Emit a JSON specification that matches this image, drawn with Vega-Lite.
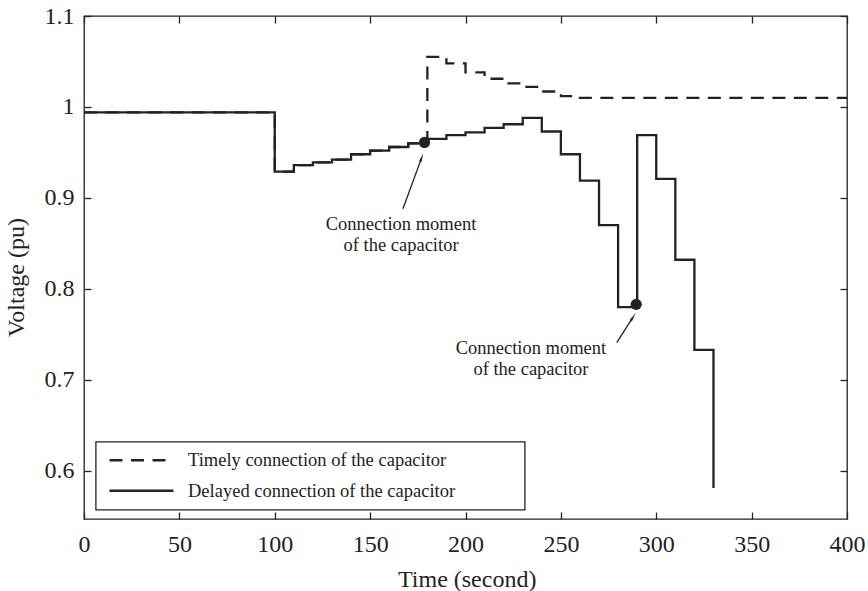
{
  "$schema": "https://vega.github.io/schema/vega-lite/v6.json",
  "width": 763,
  "height": 503,
  "autosize": {"type": "none"},
  "padding": {"left": 84, "top": 16, "right": 21, "bottom": 72},
  "background": "white",
  "config": {
    "view": {"stroke": "#222", "strokeWidth": 1.3},
    "font": "Liberation Serif",
    "axis": {
      "grid": false,
      "domain": false,
      "tickSize": -7,
      "tickColor": "#222",
      "tickWidth": 1.3,
      "labelFont": "Liberation Serif",
      "labelFontSize": 24,
      "labelColor": "#222",
      "labelFlush": false,
      "titleFont": "Liberation Serif",
      "titleFontSize": 24,
      "titleFontWeight": "normal",
      "titleColor": "#222"
    },
    "legend": {
      "strokeColor": "#222",
      "strokeWidth": 1.3,
      "fillColor": "white",
      "padding": 9.3,
      "cornerRadius": 0
    }
  },
  "datasets": {
    "series": [
      {"t": 0, "v": 0.994, "s": "Delayed connection of the capacitor"},
      {"t": 100, "v": 0.929, "s": "Delayed connection of the capacitor"},
      {"t": 110, "v": 0.936, "s": "Delayed connection of the capacitor"},
      {"t": 120, "v": 0.939, "s": "Delayed connection of the capacitor"},
      {"t": 130, "v": 0.942, "s": "Delayed connection of the capacitor"},
      {"t": 140, "v": 0.948, "s": "Delayed connection of the capacitor"},
      {"t": 150, "v": 0.952, "s": "Delayed connection of the capacitor"},
      {"t": 160, "v": 0.956, "s": "Delayed connection of the capacitor"},
      {"t": 170, "v": 0.960, "s": "Delayed connection of the capacitor"},
      {"t": 180, "v": 0.965, "s": "Delayed connection of the capacitor"},
      {"t": 190, "v": 0.969, "s": "Delayed connection of the capacitor"},
      {"t": 200, "v": 0.972, "s": "Delayed connection of the capacitor"},
      {"t": 210, "v": 0.977, "s": "Delayed connection of the capacitor"},
      {"t": 220, "v": 0.981, "s": "Delayed connection of the capacitor"},
      {"t": 230, "v": 0.988, "s": "Delayed connection of the capacitor"},
      {"t": 240, "v": 0.973, "s": "Delayed connection of the capacitor"},
      {"t": 250, "v": 0.948, "s": "Delayed connection of the capacitor"},
      {"t": 260, "v": 0.919, "s": "Delayed connection of the capacitor"},
      {"t": 270, "v": 0.870, "s": "Delayed connection of the capacitor"},
      {"t": 280, "v": 0.780, "s": "Delayed connection of the capacitor"},
      {"t": 290, "v": 0.969, "s": "Delayed connection of the capacitor"},
      {"t": 300, "v": 0.921, "s": "Delayed connection of the capacitor"},
      {"t": 310, "v": 0.832, "s": "Delayed connection of the capacitor"},
      {"t": 320, "v": 0.733, "s": "Delayed connection of the capacitor"},
      {"t": 330, "v": 0.581, "s": "Delayed connection of the capacitor"},
      {"t": 0, "v": 0.994, "s": "Timely connection of the capacitor"},
      {"t": 100, "v": 0.929, "s": "Timely connection of the capacitor"},
      {"t": 110, "v": 0.936, "s": "Timely connection of the capacitor"},
      {"t": 120, "v": 0.939, "s": "Timely connection of the capacitor"},
      {"t": 130, "v": 0.942, "s": "Timely connection of the capacitor"},
      {"t": 140, "v": 0.948, "s": "Timely connection of the capacitor"},
      {"t": 150, "v": 0.952, "s": "Timely connection of the capacitor"},
      {"t": 160, "v": 0.956, "s": "Timely connection of the capacitor"},
      {"t": 170, "v": 0.960, "s": "Timely connection of the capacitor"},
      {"t": 180, "v": 1.055, "s": "Timely connection of the capacitor"},
      {"t": 190, "v": 1.048, "s": "Timely connection of the capacitor"},
      {"t": 200, "v": 1.038, "s": "Timely connection of the capacitor"},
      {"t": 210, "v": 1.031, "s": "Timely connection of the capacitor"},
      {"t": 220, "v": 1.026, "s": "Timely connection of the capacitor"},
      {"t": 230, "v": 1.022, "s": "Timely connection of the capacitor"},
      {"t": 240, "v": 1.017, "s": "Timely connection of the capacitor"},
      {"t": 250, "v": 1.012, "s": "Timely connection of the capacitor"},
      {"t": 260, "v": 1.010, "s": "Timely connection of the capacitor"},
      {"t": 400, "v": 1.010, "s": "Timely connection of the capacitor"}
    ],
    "dots": [
      {"t": 178.5, "v": 0.961},
      {"t": 289.5, "v": 0.783}
    ],
    "arrows": [
      {"id": "a1", "t0": 167.2, "v0": 0.888, "t1": 176.8, "v1": 0.9429},
      {"id": "a2", "t0": 279.3, "v0": 0.741, "t1": 287.5, "v1": 0.7678}
    ],
    "notes": [
      {"t": 166.2, "v": 0.8648, "label": "Connection moment\nof the capacitor"},
      {"t": 234.3, "v": 0.728, "label": "Connection moment\nof the capacitor"}
    ]
  },
  "resolve": {"axis": {"x": "independent", "y": "independent"}},
  "layer": [
    {
      "data": {"name": "series"},
      "mark": {"type": "line", "interpolate": "step-after", "color": "#222", "strokeWidth": 2.3},
      "encoding": {
        "x": {
          "field": "t", "type": "quantitative",
          "scale": {"domain": [0, 400], "nice": false, "zero": false},
          "axis": {
            "values": [0, 50, 100, 150, 200, 250, 300, 350, 400],
            "labelPadding": 20.5,
            "title": "Time (second)",
            "titleX": 382.7,
            "titleY": 67,
            "titleBaseline": "alphabetic",
            "titleAlign": "center"
          }
        },
        "y": {
          "field": "v", "type": "quantitative",
          "scale": {"domain": [0.547, 1.1], "nice": false, "zero": false},
          "axis": {
            "values": [0.6, 0.7, 0.8, 0.9, 1.0, 1.1],
            "format": "~g",
            "labelPadding": 17,
            "title": "Voltage (pu)",
            "titleAngle": 270,
            "titleX": -61,
            "titleY": 261,
            "titleBaseline": "alphabetic",
            "titleAlign": "center"
          }
        },
        "strokeDash": {
          "field": "s", "type": "nominal",
          "scale": {
            "domain": ["Timely connection of the capacitor", "Delayed connection of the capacitor"],
            "range": [[13, 8.5], [1, 0]]
          },
          "legend": {
            "title": null,
            "orient": "none",
            "legendX": 11.7,
            "legendY": 425.7,
            "symbolType": "stroke",
            "symbolSize": 4096,
            "symbolStrokeWidth": 2.3,
            "symbolStrokeColor": "#222",
            "symbolOffset": 3,
            "labelOffset": 13,
            "clipHeight": 18.5,
            "rowPadding": 11.5,
            "labelFont": "Liberation Serif",
            "labelFontSize": 18.5,
            "labelColor": "#222",
            "labelLimit": 600,
            "labelExpr": "pad(datum.label, 48) + '\u200b'"
          }
        }
      }
    },
    {
      "data": {"name": "dots"},
      "mark": {"type": "point", "filled": true, "shape": "circle", "size": 125, "color": "#222", "opacity": 1},
      "encoding": {
        "x": {
          "field": "t", "type": "quantitative",
          "scale": {"domain": [0, 400], "nice": false, "zero": false},
          "axis": {"orient": "top", "values": [0, 50, 100, 150, 200, 250, 300, 350, 400], "labels": false, "title": null}
        },
        "y": {
          "field": "v", "type": "quantitative",
          "scale": {"domain": [0.547, 1.1], "nice": false, "zero": false},
          "axis": {"orient": "right", "values": [0.6, 0.7, 0.8, 0.9, 1.0, 1.1], "labels": false, "title": null}
        }
      }
    },
    {
      "data": {"name": "arrows"},
      "mark": {"type": "rule", "color": "#222", "strokeWidth": 1.3},
      "encoding": {
        "x": {"field": "t0", "type": "quantitative", "scale": {"domain": [0, 400], "nice": false, "zero": false}, "axis": null},
        "y": {"field": "v0", "type": "quantitative", "scale": {"domain": [0.547, 1.1], "nice": false, "zero": false}, "axis": null},
        "x2": {"field": "t1"},
        "y2": {"field": "v1"}
      }
    },
    {
      "data": {"name": "arrows"},
      "transform": [{"filter": "datum.id === 'a1'"}],
      "mark": {"type": "point", "shape": "wedge", "filled": true, "size": 110, "angle": 20, "color": "#222", "opacity": 1},
      "encoding": {
        "x": {"field": "t1", "type": "quantitative", "scale": {"domain": [0, 400], "nice": false, "zero": false}, "axis": null},
        "y": {"field": "v1", "type": "quantitative", "scale": {"domain": [0.547, 1.1], "nice": false, "zero": false}, "axis": null}
      }
    },
    {
      "data": {"name": "arrows"},
      "transform": [{"filter": "datum.id === 'a2'"}],
      "mark": {"type": "point", "shape": "wedge", "filled": true, "size": 110, "angle": 32, "color": "#222", "opacity": 1},
      "encoding": {
        "x": {"field": "t1", "type": "quantitative", "scale": {"domain": [0, 400], "nice": false, "zero": false}, "axis": null},
        "y": {"field": "v1", "type": "quantitative", "scale": {"domain": [0.547, 1.1], "nice": false, "zero": false}, "axis": null}
      }
    },
    {
      "data": {"name": "notes"},
      "mark": {"type": "text", "lineBreak": "\n", "align": "center", "baseline": "alphabetic", "font": "Liberation Serif", "fontSize": 18.5, "lineHeight": 21, "color": "#222"},
      "encoding": {
        "x": {"field": "t", "type": "quantitative", "scale": {"domain": [0, 400], "nice": false, "zero": false}, "axis": null},
        "y": {"field": "v", "type": "quantitative", "scale": {"domain": [0.547, 1.1], "nice": false, "zero": false}, "axis": null},
        "text": {"field": "label", "type": "nominal"}
      }
    }
  ]
}
